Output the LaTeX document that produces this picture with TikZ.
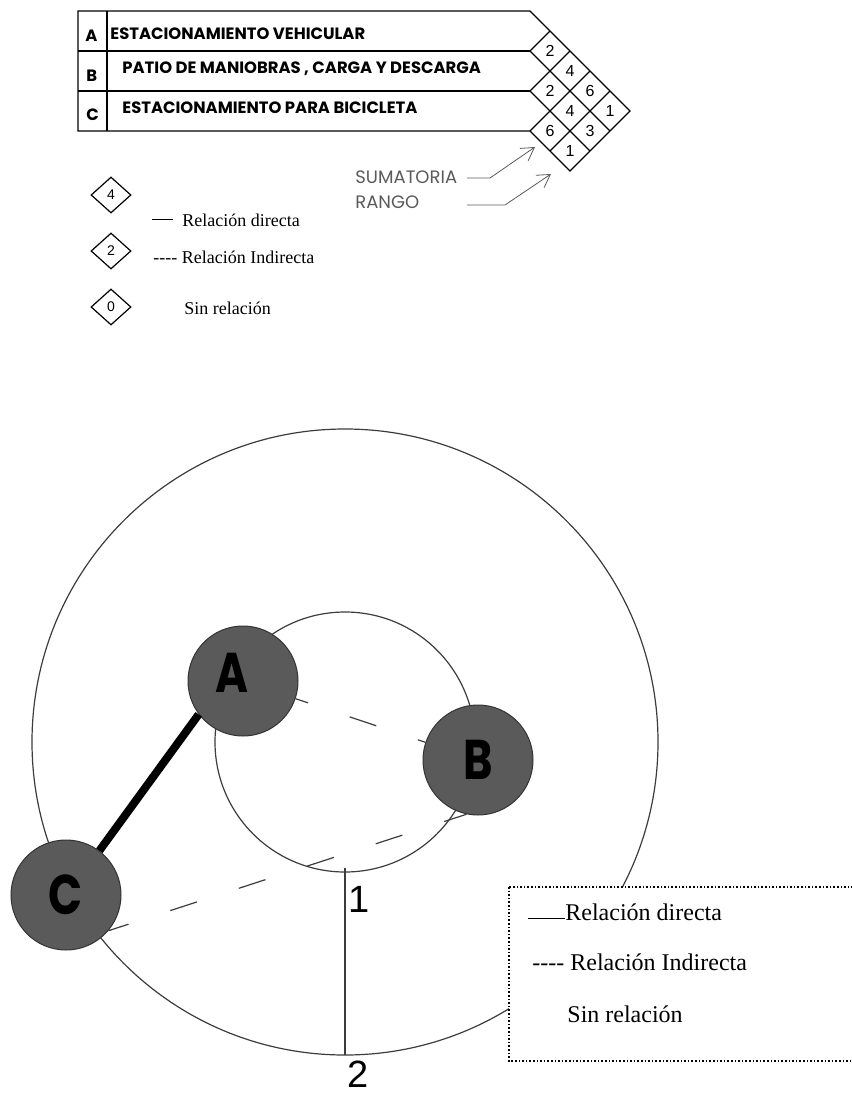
\documentclass[tikz,border=0pt]{standalone}
\usepackage{fontspec}
\setmainfont{Liberation Serif}
\newfontfamily\gothic{Poppins}
\newfontfamily\zonefont[FakeStretch=0.8]{Poppins}
\newfontfamily\arialfont{Liberation Sans}
\usetikzlibrary{arrows.meta,positioning,shapes.geometric}
\definecolor{nodeGray}{RGB}{90,90,90}
\definecolor{lineGray}{RGB}{60,60,60}
\definecolor{noteGray}{RGB}{90,90,90}

\begin{document}
\begin{tikzpicture}[x=0.5pt,y=-0.5pt,
    place/.style={circle, draw=black!80, line width=0.5pt, fill=nodeGray, minimum size=55pt, inner sep=0pt, font=\zonefont\bfseries\fontsize{28}{28}\selectfont},
    direct/.style={line width=4pt},
    indirect/.style={lineGray, line width=0.6pt, dash pattern=on 14pt off 22pt},
    ring/.style={lineGray, line width=0.6pt},
    key/.style={diamond, draw, line width=0.6pt, minimum width=20pt, minimum height=18pt, inner sep=0pt, font=\arialfont\fontsize{7}{7}\selectfont},
    cell/.style={inner sep=0pt, font=\arialfont\fontsize{8}{8}\selectfont},
    rowtxt/.style={anchor=base west, inner sep=0pt, font=\gothic\bfseries\fontsize{8.2}{8.2}\selectfont},
    note/.style={anchor=base west, inner sep=0pt, noteGray, font=\gothic\fontsize{9}{9}\selectfont},
    pointer/.style={noteGray, line width=0.4pt, -{Straight Barb[length=2.2mm,width=2.6mm]}},
    legtxt/.style={anchor=base west, inner sep=0pt, font=\fontsize{9}{9}\selectfont},
    boxtxt/.style={anchor=base west, inner sep=0pt, font=\fontsize{12}{12}\selectfont},
    numtxt/.style={inner sep=0pt, font=\arialfont\fontsize{19}{19}\selectfont}]

    \useasboundingbox (0,0) rectangle (851,1097);

    % Relation table
    \draw[line width=0.6pt] (78,11) -- (530,11) -- (630,111) -- (570,171) -- (530,131) -- (78,131) -- cycle;
    \draw[line width=0.6pt] (78,51) -- (530,51) (78,91) -- (530,91) (107,11) -- (107,131);
    \draw[line width=0.6pt] (530,51) -- (610,131) (530,91) -- (590,151);
    \draw[line width=0.6pt] (530,51) -- (550,31) (530,91) -- (570,51) (530,131) -- (590,71) (550,151) -- (610,91);

    \node[rowtxt] (ka) at (85,41.7) {A};
    \node[rowtxt] (kb) at (86,81.7) {B};
    \node[rowtxt] (kc) at (86,120.7) {C};
    \node[rowtxt] (ta) at (110,40) {ESTACIONAMIENTO VEHICULAR};
    \node[rowtxt] (tb) at (122,74) {PATIO DE MANIOBRAS , CARGA Y DESCARGA};
    \node[rowtxt] (tc) at (122,113.3) {ESTACIONAMIENTO PARA BICICLETA};

    % values, sums and ranks
    \node[cell] (ab) at (550,51) {2};
    \node[cell] (ac) at (570,71) {4};
    \node[cell] (sa) at (590,91) {6};
    \node[cell] (ra) at (610,111) {1};
    \node[cell] (bc) at (550,91) {2};
    \node[cell] (sb) at (570,111) {4};
    \node[cell] (rb) at (590,131) {3};
    \node[cell] (sc) at (550,131) {6};
    \node[cell] (rc) at (570,151) {1};

    % Sumatoria and rango pointers
    \node[note] (sum) at (355,183.3) {SUMATORIA};
    \node[note] (rng) at (355,208.3) {RANGO};
    \coordinate (sumtip) at (535,147);
    \coordinate (rngtip) at (551,174);
    \draw[pointer] (467,178) -- (490,178) -- (sumtip);
    \draw[pointer] (467,205) -- (505,205) -- (rngtip);

    % Key
    \node[key] (k4) at (111,195) {4};
    \node[key] (k2) at (111,251) {2};
    \node[key] (k0) at (111,307) {0};
    \node[legtxt] (l1) at (152,226) {\rule[3pt]{10.5pt}{0.5pt}\kern4.5pt Relación directa};
    \node[legtxt] (l2) at (153,263) {-{}-{}-{}- Relación Indirecta};
    \node[legtxt] (l3) at (184,314) {Sin relación};

    % Rings 1 and 2
    \draw[ring] (345,742) circle (313);
    \draw[ring] (345,742) circle (130);
    \draw[ring] (345,868) -- (345,1055);
    \node[numtxt] (n1) at (359,899) {1};
    \node[numtxt] (n2) at (358,1074) {2};

    % Zones
    \node[place] (A) at (243,681) {\raisebox{4pt}[\height][\depth]{A}\kern11pt};
    \node[place] (B) at (478,760) {B};
    \node[place] (C) at (66,895) {C};

    \draw[indirect, dash phase=7.5pt] (A) -- (B);
    \draw[indirect, dash phase=3.5pt] (C.-40) -- (B.-102);
    \draw[direct] (A.217) -- (C.53);

    % Legend box
    \draw[densely dotted, line width=0.8pt, fill=white] (509,887) rectangle (858,1061);
    \node[boxtxt] (b1) at (528,920) {\rule[0.5pt]{18.5pt}{0.6pt}Relación directa};
    \node[boxtxt] (b2) at (532,970) {-{}-{}-{}- Relación Indirecta};
    \node[boxtxt] (b3) at (567,1022) {Sin relación};
\end{tikzpicture}
\end{document}
